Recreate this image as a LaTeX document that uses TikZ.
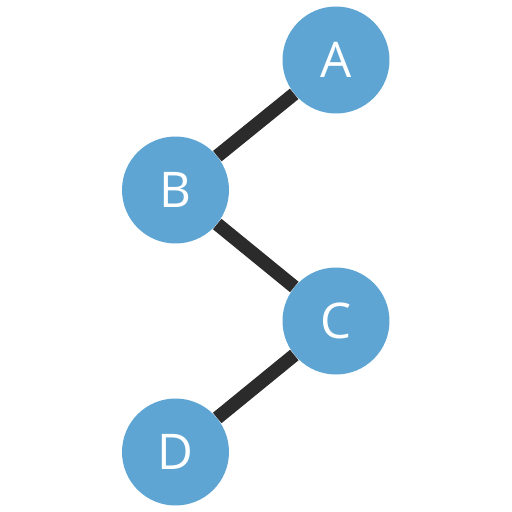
\documentclass[tikz,border=0pt]{standalone}
\usepackage{fontspec}
\setmainfont{Open Sans}
\definecolor{nodeblue}{RGB}{94,165,211}
\definecolor{edgegray}{RGB}{43,43,43}
\tikzset{
  vertex/.style={circle, fill=nodeblue, minimum size=2.14cm, inner sep=0pt,
    text=white, font=\fontsize{28}{30}\selectfont},
  edge/.style={draw=edgegray, line width=0.27cm}
}

\begin{document}
\begin{tikzpicture}[x=0.02cm, y=-0.02cm]
    \useasboundingbox (0,0) rectangle (512,512);

    \node[vertex] (A) at (336,60) {A};
    \node[vertex] (B) at (175.5,190) {B};
    \node[vertex] (C) at (336,321) {C};
    \node[vertex] (D) at (175.5,452) {D};

    \draw[edge] (A) -- (B);
    \draw[edge] (B) -- (C);
    \draw[edge] (C) -- (D);
\end{tikzpicture}
\end{document}
